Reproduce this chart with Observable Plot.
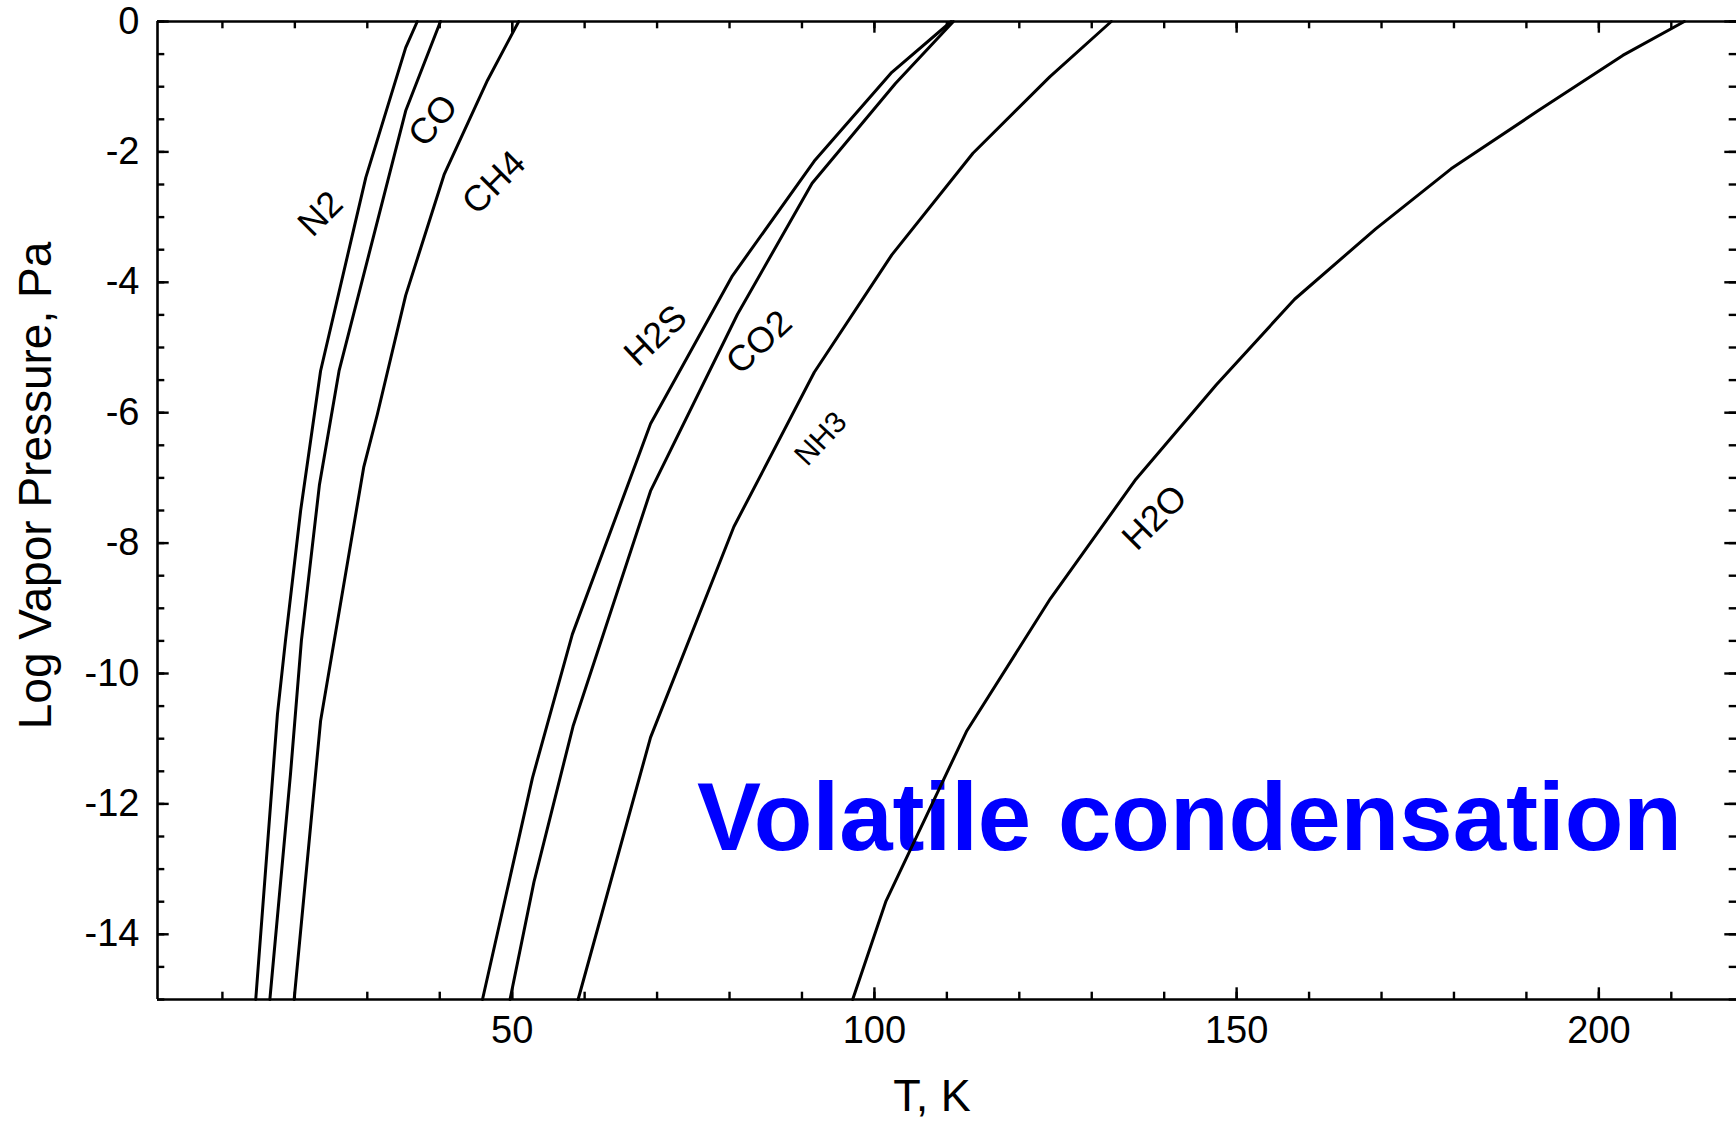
<!DOCTYPE html>
<html>
<head>
<meta charset="utf-8">
<script src="https://cdn.jsdelivr.net/npm/d3@7"></script>
<script src="https://cdn.jsdelivr.net/npm/@observablehq/plot@0.6"></script>
<style>
  html, body { margin: 0; padding: 0; background: #fff; }
  svg { display: block; }
</style>
</head>
<body>
<div id="chart"></div>
<script>
// ---- data: [T (K), log10 vapor pressure (Pa)] ----
const N2  = [[36.9,0],[35.3,-0.4],[29.8,-2.39],[23.55,-5.36],[20.8,-7.5],[18.7,-9.5],[17.6,-10.62],[14.6,-15]];
const CO  = [[40.1,0],[35.3,-1.37],[26.1,-5.36],[23.4,-7.1],[20.9,-9.5],[19.4,-11.54],[16.55,-15]];
const CH4 = [[50.9,0],[46.6,-0.9],[40.6,-2.35],[35.3,-4.2],[31.4,-6.02],[29.5,-6.84],[23.55,-10.73],[19.9,-15]];
const H2S = [[110.6,0],[102.4,-0.78],[91.7,-2.14],[80.4,-3.9],[69.1,-6.17],[58.3,-9.4],[52.8,-11.6],[45.9,-15]];
const CO2 = [[110.9,0],[102.9,-0.95],[91.4,-2.48],[81.1,-4.49],[69.1,-7.2],[58.4,-10.81],[53.0,-13.2],[49.7,-15]];
const NH3 = [[132.7,0],[124.2,-0.85],[113.6,-2.02],[102.4,-3.58],[91.7,-5.38],[80.6,-7.75],[69.1,-10.98],[59.1,-15]];
const H2O = [[211.8,0],[203.3,-0.52],[191.6,-1.37],[179.6,-2.26],[169.2,-3.18],[158.0,-4.26],[147.2,-5.57],[136.1,-7.02],[124.3,-8.85],[112.7,-10.89],[101.6,-13.49],[97.0,-15]];

const species = ["N2", "CO", "CH4", "H2S", "CO2", "NH3", "H2O"];
const curves  = [N2, CO, CH4, H2S, CO2, NH3, H2O];

// curve label anchors (data units)
const labelT = [23.55, 39.1, 47.5, 69.8, 84.1, 92.6, 138.7];
const labelP = [-2.95, -1.52, -2.47, -4.82, -4.92, -6.40, -7.61];

// axis ticks
const xMajor = [50, 100, 150, 200];
const xMinor = d3.range(10, 219, 10);
const yMajor = [0, -2, -4, -6, -8, -10, -12, -14];
const yMinor = d3.range(-15, 0.001, 0.5);

const xDomain = [1.04, 219.0];
const yDomain = [-15, 0];

// ---- layout / style ----
const W = 1736, H = 1122;
const mL = 157, mR = 0, mT = 21, mB = 123;
const innerW = W - mL - mR, innerH = H - mT - mB;
const majorLen = 11.7, minorLen = 7.3;
const font = "'Liberation Sans', Arial, Helvetica, sans-serif";
const labelAngle = {N2: -45, CO: -50, CH4: -45, H2S: -43, CO2: -43, NH3: -47, H2O: -45};

const rows = species.flatMap((s, i) => curves[i].map(([T, P]) => ({species: s, T, P})));
const labels = species.map((s, i) => ({species: s, T: labelT[i], P: labelP[i]}));

const chart = Plot.plot({
  width: W, height: H,
  marginLeft: mL, marginRight: mR, marginTop: mT, marginBottom: mB,
  x: {domain: xDomain},
  y: {domain: yDomain},
  style: {fontFamily: font, color: "black", background: "white", overflow: "visible"},
  marks: [
    Plot.text(["Volatile condensation"], {
      x: 75.5, y: -12.7, textAnchor: "start", lineAnchor: "bottom",
      fontSize: 96, fontWeight: "bold", fill: "#0000ff"
    }),
    Plot.line(rows, {x: "T", y: "P", z: "species", stroke: "black", strokeWidth: 3, strokeLinejoin: "round"}),
    Plot.text(labels.filter(d => d.species !== "NH3"), {
      x: "T", y: "P", text: "species", rotate: d => labelAngle[d.species],
      fontSize: 36, lineAnchor: "middle", textAnchor: "middle", fill: "black"
    }),
    Plot.text(labels.filter(d => d.species === "NH3"), {
      x: "T", y: "P", text: "species", rotate: d => labelAngle[d.species],
      fontSize: 30, lineAnchor: "middle", textAnchor: "middle", fill: "black"
    }),
    // frame (right edge lies beyond the picture)
    Plot.ruleY(yDomain, {stroke: "black", strokeWidth: 2.6}),
    Plot.ruleX([xDomain[0]], {stroke: "black", strokeWidth: 2.6}),
    // inward ticks: bottom, top
    Plot.tickX(xMinor, {insetTop: innerH - minorLen, stroke: "black", strokeWidth: 2.4}),
    Plot.tickX(xMajor, {insetTop: innerH - majorLen, stroke: "black", strokeWidth: 2.4}),
    Plot.tickX(xMinor, {insetBottom: innerH - minorLen, stroke: "black", strokeWidth: 2.4}),
    Plot.tickX(xMajor, {insetBottom: innerH - majorLen, stroke: "black", strokeWidth: 2.4}),
    // inward ticks: left, right
    Plot.tickY(yMinor, {insetRight: innerW - minorLen, stroke: "black", strokeWidth: 2.4}),
    Plot.tickY(yMajor, {insetRight: innerW - majorLen, stroke: "black", strokeWidth: 2.4}),
    Plot.tickY(yMinor, {insetLeft: innerW - minorLen, stroke: "black", strokeWidth: 2.4}),
    Plot.tickY(yMajor, {insetLeft: innerW - majorLen, stroke: "black", strokeWidth: 2.4}),
    // tick labels
    Plot.axisX(xMajor, {tickSize: 0, tickPadding: 17, fontSize: 38, label: null, tickFormat: d => String(d)}),
    Plot.axisY(yMajor, {tickSize: 0, tickPadding: 18, fontSize: 38, label: null, tickFormat: d => String(d)}),
    // axis titles
    Plot.text(["T, K"], {frameAnchor: "bottom", dx: -15, dy: 97, fontSize: 45, lineAnchor: "middle", textAnchor: "middle", fill: "black"}),
    Plot.text(["Log Vapor Pressure, Pa"], {frameAnchor: "left", rotate: -90, dx: -121.5, dy: -25, fontSize: 46, lineAnchor: "middle", textAnchor: "middle", fill: "black"})
  ]
});

document.getElementById("chart").append(chart);
</script>
</body>
</html>
